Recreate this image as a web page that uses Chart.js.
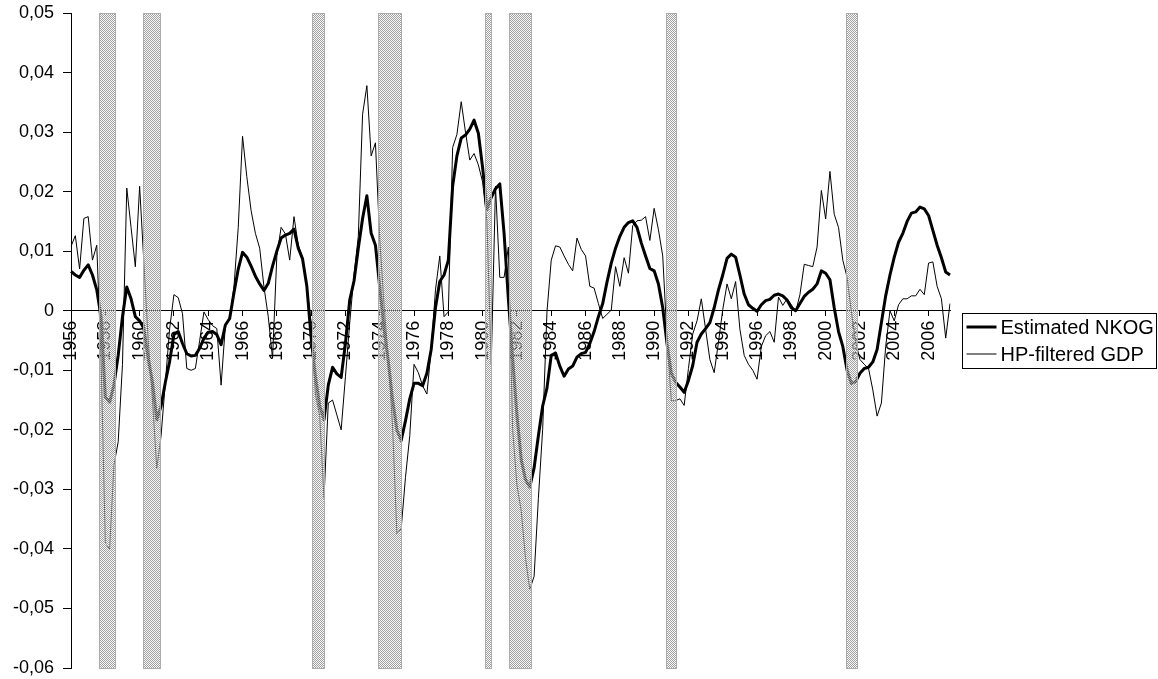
<!DOCTYPE html>
<html><head><meta charset="utf-8">
<script src="https://cdn.jsdelivr.net/npm/chart.js@4.4.1/dist/chart.umd.min.js"></script>
<style>html,body{margin:0;padding:0;background:#fff;}#wrap{width:1158px;height:679px;position:relative;}</style>
</head><body><div id="wrap"><canvas id="c"></canvas></div>
<script>
const startYear = 1956;
const quarterCount = 206;
const quarters = [];
for (let i = 0; i < quarterCount; i++) quarters.push((startYear + Math.floor(i / 4)) + 'Q' + (i % 4 + 1));

const nkog = [
0.0066,0.0060,0.0056,0.0068,0.0077,0.0060,0.0035,-0.0010,-0.0145,-0.0154,
-0.0125,-0.0075,-0.0010,0.0040,0.0020,-0.0010,-0.0017,-0.0030,-0.0080,-0.0120,
-0.0183,-0.0160,-0.0120,-0.0085,-0.0040,-0.0035,-0.0055,-0.0072,-0.0076,-0.0075,
-0.0063,-0.0046,-0.0036,-0.0035,-0.0040,-0.0057,-0.0024,-0.0013,0.0030,0.0070,
0.0098,0.0090,0.0075,0.0058,0.0045,0.0034,0.0046,0.0075,0.0100,0.0122,
0.0127,0.0130,0.0137,0.0105,0.0087,0.0041,-0.0045,-0.0110,-0.0160,-0.0183,
-0.0125,-0.0095,-0.0106,-0.0112,-0.0055,0.0018,0.0050,0.0105,0.0155,0.0193,
0.0130,0.0110,0.0040,-0.0030,-0.0085,-0.0150,-0.0200,-0.0218,-0.0185,-0.0148,
-0.0122,-0.0122,-0.0126,-0.0105,-0.0065,0.0005,0.0049,0.0060,0.0085,0.0209,
0.0260,0.0290,0.0295,0.0305,0.0320,0.0298,0.0240,0.0170,0.0190,0.0205,
0.0213,0.0130,0.0020,-0.0080,-0.0175,-0.0250,-0.0284,-0.0296,-0.0264,-0.0210,
-0.0160,-0.0130,-0.0075,-0.0071,-0.0093,-0.0110,-0.0098,-0.0093,-0.0078,-0.0072,
-0.0070,-0.0055,-0.0035,-0.0010,0.0012,0.0048,0.0080,0.0105,0.0125,0.0140,
0.0148,0.0151,0.0140,0.0114,0.0092,0.0071,0.0067,0.0045,0.0005,-0.0055,
-0.0105,-0.0120,-0.0128,-0.0137,-0.0117,-0.0092,-0.0053,-0.0039,-0.0030,-0.0020,
0.0005,0.0035,0.0060,0.0088,0.0095,0.0090,0.0060,0.0028,0.0010,0.0004,
-0.0001,0.0010,0.0017,0.0019,0.0026,0.0028,0.0025,0.0018,0.0005,0.0000,
0.0012,0.0024,0.0031,0.0036,0.0045,0.0067,0.0063,0.0052,0.0005,-0.0035,
-0.0060,-0.0100,-0.0122,-0.0119,-0.0105,-0.0097,-0.0095,-0.0086,-0.0065,-0.0020,
0.0025,0.0060,0.0090,0.0115,0.0130,0.0150,0.0164,0.0166,0.0174,0.0171,
0.0160,0.0135,0.0110,0.0089,0.0065,0.0060
];

const hpGdp = [
0.0108,0.0126,0.0070,0.0155,0.0158,0.0085,0.0110,-0.0080,-0.0390,-0.0400,
-0.0260,-0.0220,-0.0090,0.0206,0.0140,0.0074,0.0209,0.0080,-0.0050,-0.0150,
-0.0265,-0.0210,-0.0120,-0.0030,0.0027,0.0022,-0.0005,-0.0097,-0.0100,-0.0097,
-0.0050,-0.0002,-0.0015,-0.0025,-0.0030,-0.0125,-0.0025,-0.0015,0.0040,0.0140,
0.0293,0.0225,0.0168,0.0130,0.0105,0.0040,-0.0010,-0.0080,0.0092,0.0140,
0.0129,0.0085,0.0158,0.0110,0.0090,0.0041,-0.0020,-0.0140,-0.0177,-0.0315,
-0.0155,-0.0150,-0.0175,-0.0200,-0.0111,-0.0020,0.0060,0.0125,0.0330,0.0378,
0.0260,0.0282,0.0120,0.0010,-0.0080,-0.0195,-0.0375,-0.0366,-0.0280,-0.0210,
-0.0090,-0.0104,-0.0126,-0.0140,-0.0065,0.0035,0.0092,-0.0010,-0.0002,0.0274,
0.0296,0.0351,0.0300,0.0253,0.0264,0.0245,0.0216,0.0150,-0.0090,0.0209,
0.0056,0.0056,0.0107,-0.0200,-0.0293,-0.0336,-0.0416,-0.0468,-0.0446,-0.0315,
-0.0199,-0.0002,0.0085,0.0109,0.0107,0.0092,0.0078,0.0067,0.0122,0.0103,
0.0092,0.0041,0.0038,0.0012,-0.0013,-0.0006,0.0001,0.0074,0.0041,0.0089,
0.0063,0.0143,0.0151,0.0152,0.0158,0.0118,0.0172,0.0136,0.0092,-0.0046,
-0.0151,-0.0151,-0.0148,-0.0159,-0.0097,-0.0039,-0.0017,0.0020,-0.0031,-0.0082,
-0.0104,-0.0053,0.0002,0.0045,0.0020,0.0049,-0.0031,-0.0075,-0.0090,-0.0100,
-0.0115,-0.0060,-0.0042,-0.0035,-0.0053,0.0023,0.0009,0.0020,0.0010,-0.0002,
0.0027,0.0078,0.0076,0.0074,0.0107,0.0202,0.0154,0.0234,0.0162,0.0140,
0.0085,0.0056,-0.0002,-0.0053,-0.0082,-0.0090,-0.0097,-0.0133,-0.0177,-0.0155,
-0.0060,0.0000,-0.0017,0.0010,0.0020,0.0020,0.0025,0.0025,0.0036,0.0027,
0.0080,0.0082,0.0041,0.0020,-0.0046,0.0012
];

// Recession periods (fractional years)
const recessionStart = [1957.61, 1960.18, 1970.05, 1973.90, 1980.15, 1981.55, 1990.67, 2001.16];
const recessionEnd   = [1958.60, 1961.23, 1970.81, 1975.30, 1980.56, 1982.90, 1991.31, 2001.88];

const tickLabelEvery = 8; // every two years
const yMin = -0.06, yMax = 0.05, yStep = 0.01;

const FONT = "'Liberation Sans', Arial, Helvetica, sans-serif";

function makePattern(ctx) {
  const c = document.createElement('canvas');
  c.width = 2; c.height = 2;
  const g = c.getContext('2d');
  g.fillStyle = '#a0a0a0';
  g.fillRect(0, 0, 1, 1);
  g.fillRect(1, 1, 1, 1);
  g.fillStyle = 'rgba(235,235,235,0.35)';
  g.fillRect(1, 0, 1, 1);
  g.fillRect(0, 1, 1, 1);
  return ctx.createPattern(c, 'repeat');
}

const recessionPlugin = {
  id: 'recessions',
  afterDatasetsDraw(chart) {
    const {ctx, scales: {x, y}} = chart;
    const pat = makePattern(ctx);
    const top = Math.round(y.getPixelForValue(yMax));
    const bottom = Math.round(y.getPixelForValue(yMin));
    ctx.save();
    for (let k = 0; k < recessionStart.length; k++) {
      const x0 = Math.round(x.getPixelForValue((recessionStart[k] - startYear) * 4));
      const x1 = Math.round(x.getPixelForValue((recessionEnd[k] - startYear) * 4));
      ctx.fillStyle = pat;
      ctx.fillRect(x0, top, x1 - x0, bottom - top);
      ctx.strokeStyle = '#acacac';
      ctx.lineWidth = 1;
      ctx.strokeRect(x0 + 0.5, top + 0.5, x1 - x0 - 1, bottom - top);
    }
    ctx.restore();
  }
};

// Legend drawn from the datasets, framed like the original
const legendPlugin = {
  id: 'framedLegend',
  afterDraw(chart) {
    const ctx = chart.ctx;
    const area = chart.chartArea;
    const mid = Math.round((area.top + area.bottom) / 2);
    const boxL = Math.round(area.right) + 12.5;
    const boxR = chart.width - 1.5;
    const rowGap = 27;
    const boxT = mid - 28 + 0.5;
    const boxB = mid + 27 + 0.5;
    ctx.save();
    ctx.strokeStyle = '#000';
    ctx.lineWidth = 1;
    ctx.strokeRect(boxL, boxT, boxR - boxL, boxB - boxT);
    ctx.font = '20px ' + FONT;
    ctx.textBaseline = 'middle';
    ctx.textAlign = 'left';
    chart.data.datasets.forEach((ds, k) => {
      const yRow = mid - 14 + k * rowGap;
      ctx.beginPath();
      ctx.strokeStyle = ds.borderColor;
      ctx.lineWidth = ds.borderWidth;
      ctx.moveTo(boxL + 4, yRow);
      ctx.lineTo(boxL + 34, yRow);
      ctx.stroke();
      ctx.fillStyle = '#000';
      ctx.fillText(ds.label, boxL + 38, yRow + 1);
    });
    ctx.restore();
  }
};

new Chart(document.getElementById('c'), {
  type: 'line',
  data: {
    labels: quarters,
    datasets: [
      { label: 'Estimated NKOG', data: nkog, borderColor: '#000', borderWidth: 3, pointRadius: 0, tension: 0, borderJoinStyle: 'round', fill: false },
      { label: 'HP-filtered GDP', data: hpGdp, borderColor: '#000', borderWidth: 1, pointRadius: 0, tension: 0, fill: false }
    ]
  },
  options: {
    responsive: true,
    maintainAspectRatio: false,
    animation: false,
    layout: { padding: { left: 4, top: 13, bottom: 11, right: 208 } },
    plugins: {
      tooltip: { enabled: false },
      legend: { display: false }
    },
    scales: {
      x: {
        type: 'category',
        position: { y: 0 },
        offset: false,
        grid: { display: true, drawOnChartArea: false, drawTicks: true, tickLength: 5, color: '#000', tickColor: '#000' },
        border: { display: true, color: '#000', width: 1 },
        ticks: {
          autoSkip: false, minRotation: 90, maxRotation: 90, padding: 5, color: '#000',
          font: { family: FONT, size: 18 },
          callback: function(v, i) { return i % tickLabelEvery === 0 ? String(startYear + i / 4) : null; }
        }
      },
      y: {
        min: yMin, max: yMax,
        grid: { display: true, drawOnChartArea: false, drawTicks: true, tickLength: 8, color: '#000', tickColor: '#000' },
        border: { display: true, color: '#000', width: 1 },
        ticks: {
          stepSize: yStep, padding: 9, color: '#000',
          font: { family: FONT, size: 18, lineHeight: 0.2 },
          callback: function(v) { if (Math.abs(v) < 1e-9) return '0'; return v.toFixed(2).replace('.', ','); }
        }
      }
    }
  },
  plugins: [recessionPlugin, legendPlugin]
});
</script>
</body></html>
